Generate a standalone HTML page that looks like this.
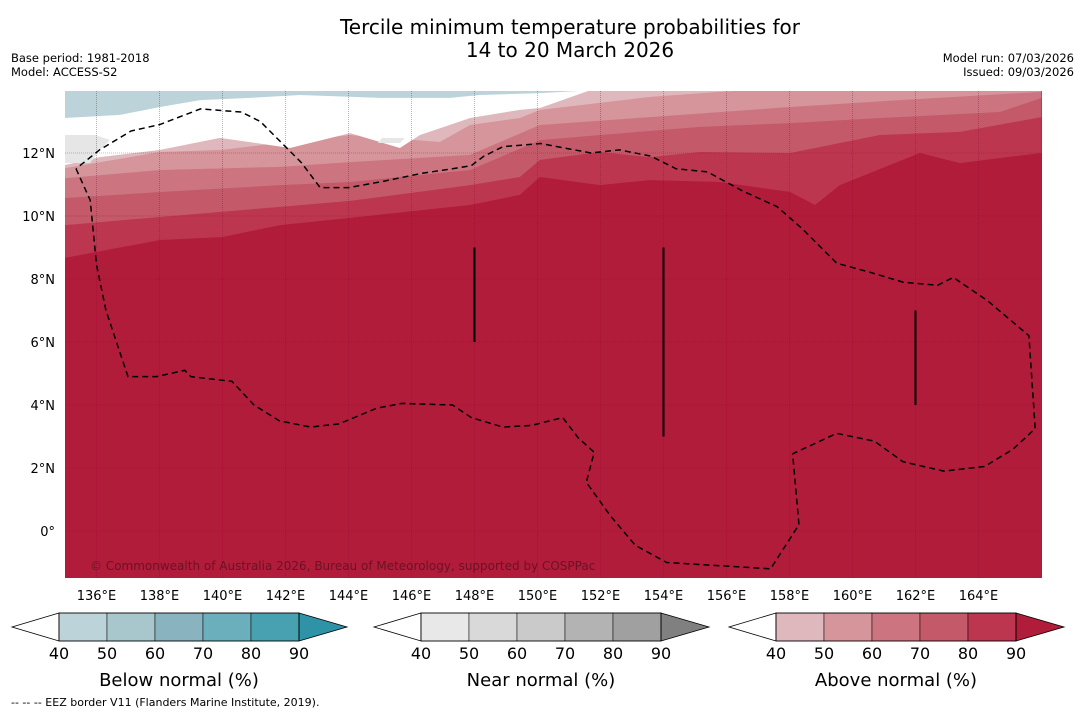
<!DOCTYPE html>
<html><head><meta charset="utf-8"><style>
body{margin:0;background:#fff;font-family:"Liberation Sans","DejaVu Sans",sans-serif}
</style></head><body>
<svg id="s" width="1085" height="713" xmlns="http://www.w3.org/2000/svg" style="font-family:'DejaVu Sans','Liberation Sans',sans-serif">
<text x="570" y="34" font-size="20" text-anchor="middle">Tercile minimum temperature probabilities for</text>
<text x="570" y="57" font-size="20" text-anchor="middle">14 to 20 March 2026</text>
<text x="11" y="62" font-size="11.5">Base period: 1981-2018</text>
<text x="11" y="76" font-size="11.5">Model: ACCESS-S2</text>
<text x="1074" y="62" font-size="11.5" text-anchor="end">Model run: 07/03/2026</text>
<text x="1074" y="76" font-size="11.5" text-anchor="end">Issued: 09/03/2026</text>
<defs><clipPath id="mc"><rect x="65" y="91" width="977" height="487"/></clipPath></defs>
<g id="map" clip-path="url(#mc)"></g>
<g id="axes"></g>
<text x="90" y="570" font-size="12" fill="#5a1020" opacity="0.8">© Commonwealth of Australia 2026, Bureau of Meteorology, supported by COSPPac</text>
<g id="bars"></g>
<text x="11" y="706" font-size="11">--  --  -- EEZ border V11 (Flanders Marine Institute, 2019).</text>
</svg>
<script>
const lonTicks=[136,138,140,142,144,146,148,150,152,154,156,158,160,162,164];
const latTicks=[0,2,4,6,8,10,12];
const cbTicks=[40,50,60,70,80,90];
const cbNames=["Below normal (%)","Near normal (%)","Above normal (%)"];
const blueCols=["#bcd3da","#a8c7cc","#89b3bf","#6baebc","#48a1b1","#2f93a8"];
const grayCols=["#e8e8e8","#d9d9d9","#cacaca","#b3b3b3","#a0a0a0","#808080"];
const redCols=["#dfb8bd","#d6949b","#cc7581","#c45a69","#bc3650","#b01c3a"];
// band boundaries: [lon, lat]
const bAbove80=[[135,8.67],[138.02,9.24],[139.98,9.33],[141.83,9.71],[144.05,9.94],[147.86,10.35],[149.44,10.67],[150.08,11.24],[151.98,10.98],[153.57,11.14],[155.79,11.08],[158.02,10.76],[158.81,10.35],[159.6,10.98],[162.14,12],[163.41,11.68],[164.68,11.84],[166,12]];
const bAbove70=[[135,9.71],[138.02,9.97],[141.83,10.29],[144.05,10.48],[147.86,10.98],[149.44,11.24],[150.08,11.78],[151.98,12.03],[153.57,11.87],[155.16,12.03],[158.02,12],[160.87,12.57],[163.41,12.67],[166,13.14]];
const bAbove60=[[135,10.57],[138.02,10.76],[141.83,10.98],[144.05,11.08],[147.86,11.46],[150.08,12.41],[151.98,12.57],[155.16,12.83],[158.02,12.95],[160.87,13.11],[164.68,13.3],[166,13.75]];
const bAbove50=[[135,11.2],[138.02,11.46],[141.83,11.56],[144.05,11.71],[147.86,11.94],[150.08,12.89],[153.57,13.14],[158.02,13.46],[161.51,13.68],[166,13.94]];
const bAbove40=[[135,11.52],[138.02,12.03],[139.98,12.1],[141.83,12.32],[144.05,12.57],[146.9,12.35],[147.86,12.89],[149.44,13.11],[150.08,13.37],[153.57,13.78],[155.79,13.94],[158.33,14.1],[166,14.5]];
const bPinkTop=[[135,11.62],[136.11,11.87],[138.02,12.1],[139.92,12.48],[142.14,12.16],[144.05,12.63],[145.63,12.16],[146.27,12.57],[147.86,13.11],[149.44,13.37],[150.08,13.43],[151.98,14.1],[166,14.5]];
const bBlueBottom=[[135,13.11],[136.75,13.21],[138.02,13.46],[139.29,13.68],[140.87,13.75],[142.46,13.84],[145,13.75],[147.22,13.75],[148.17,13.84],[150.08,13.9],[151.35,13.97],[152,14.2]];
const eez=[[135.35,11.5],[135.8,10.5],[136,8.45],[136.3,7],[137,4.9],[137.9,4.9],[138.8,5.1],[139,4.9],[140.3,4.75],[141,4],[141.8,3.5],[142.8,3.3],[143.7,3.4],[144.9,3.9],[145.7,4.05],[147.3,4],[147.9,3.6],[148.9,3.3],[149.8,3.35],[150.8,3.6],[151.3,2.95],[151.8,2.5],[151.55,1.55],[152.3,0.5],[153.1,-0.45],[154.1,-1],[157.4,-1.2],[158.3,0.2],[158.1,2.45],[159.5,3.1],[160.7,2.85],[161.6,2.2],[162.9,1.9],[164.2,2.05],[165.1,2.6],[165.8,3.25],[165.6,6.2],[164.3,7.3],[163.2,8.05],[162.7,7.8],[161.6,7.9],[160.6,8.2],[159.5,8.5],[158.4,9.6],[157.6,10.3],[156.5,10.8],[155.4,11.4],[154.4,11.5],[153.6,11.9],[152.6,12.1],[151.7,12.0],[150.1,12.3],[148.9,12.2],[148.3,11.9],[147.9,11.6],[147.3,11.5],[146.3,11.35],[145.1,11.1],[144,10.9],[143.1,10.9],[142.5,11.7],[141.2,13],[140.6,13.3],[139.3,13.4],[138,12.9],[137.1,12.7],[136.1,12.1],[135.35,11.5]];
const vLines=[[148,6,9],[154,3,9],[162,4,7]];
const X=lon=>65+(lon-135)*31.5, Y=lat=>531-lat*31.5;
const NS="http://www.w3.org/2000/svg";
function mk(t,a,p){const e=document.createElementNS(NS,t);for(const k in a)e.setAttribute(k,a[k]);p.appendChild(e);return e;}
const map=document.getElementById('map');
mk('rect',{x:65,y:91,width:977,height:487,fill:redCols[5]},map);
function band(pts,col,nm){let d="M"+X(135)+","+Y(16)+" L"+X(pts[0][0])+","+Y(pts[0][1]);for(const p of pts)d+=" L"+X(p[0])+","+Y(p[1]);d+=" L"+X(pts[pts.length-1][0])+","+Y(16)+"Z";const e=mk('path',{d:d,fill:col},map);

}
band(bAbove80,redCols[4],'band-above-80');
band(bAbove70,redCols[3],'band-above-70');
band(bAbove60,redCols[2],'band-above-60');
band(bAbove50,redCols[1],'band-above-50');
band(bAbove40,redCols[0],'band-above-40');
band(bPinkTop,"#ffffff",'band-white');
band(bBlueBottom,blueCols[0],'band-below-40');
const g1=mk('path',{d:"M65,135 L95,135 L110,140 L100,150 L90,163 L65,163Z",fill:"#e6e6e6"},map);


mk('path',{d:"M382,138 L405,138 L400,143 L378,143Z",fill:"#e6e6e6"},map);
const ax=document.getElementById('axes');
for(const l of lonTicks){const x=X(l);const gl=mk('line',{x1:x,y1:91,x2:x,y2:578,stroke:"#333",'stroke-width':0.6,'stroke-dasharray':"1,1",opacity:0.6},map);


const t=mk('text',{x:x,y:600,'font-size':13,'text-anchor':'middle'},ax);t.textContent=l+"°E";

}
for(const l of latTicks){const y=Y(l);const gl=mk('line',{x1:65,y1:y,x2:1042,y2:y,stroke:"#333",'stroke-width':0.6,'stroke-dasharray':"1,1",opacity:0.6},map);


const t=mk('text',{x:55,y:y+5,'font-size':13,'text-anchor':'end'},ax);t.textContent=l===0?"0°":l+"°N";

}
for(const v of vLines){const e=mk('line',{x1:X(v[0]),y1:Y(v[2]),x2:X(v[0]),y2:Y(v[1]),stroke:"#000",'stroke-width':2},map);

}
const ez=mk('polyline',{points:eez.map(p=>X(p[0])+","+Y(p[1])).join(" "),fill:"none",stroke:"#000",'stroke-width':1.5,'stroke-dasharray':"6,4"},map);


const bars=document.getElementById('bars');
const sets=[blueCols,grayCols,redCols], x0s=[59,421,776];
sets.forEach((cols,i)=>{const x0=x0s[i],w=48,y0=613,h=28;
const g=mk('g',{},bars);


mk('path',{d:`M${x0},${y0} L${x0-47},${y0+h/2} L${x0},${y0+h}Z`,fill:"#fff",stroke:"#000",'stroke-width':0.8},g);
for(let k=0;k<5;k++)mk('rect',{x:x0+k*w,y:y0,width:w,height:h,fill:cols[k],stroke:"#000",'stroke-width':0.5},g);
mk('path',{d:`M${x0+240},${y0} L${x0+288},${y0+h/2} L${x0+240},${y0+h}Z`,fill:cols[5],stroke:"#000",'stroke-width':0.8},g);
mk('rect',{x:x0,y:y0,width:240,height:h,fill:"none",stroke:"#000",'stroke-width':0.8},g);
cbTicks.forEach((t,k)=>{const e=mk('text',{x:x0+k*w,y:659,'font-size':16,'text-anchor':'middle'},g);e.textContent=t;

});
const tt=mk('text',{x:x0+120,y:686,'font-size':18,'text-anchor':'middle'},g);tt.textContent=cbNames[i];


});
</script>
</body></html>
